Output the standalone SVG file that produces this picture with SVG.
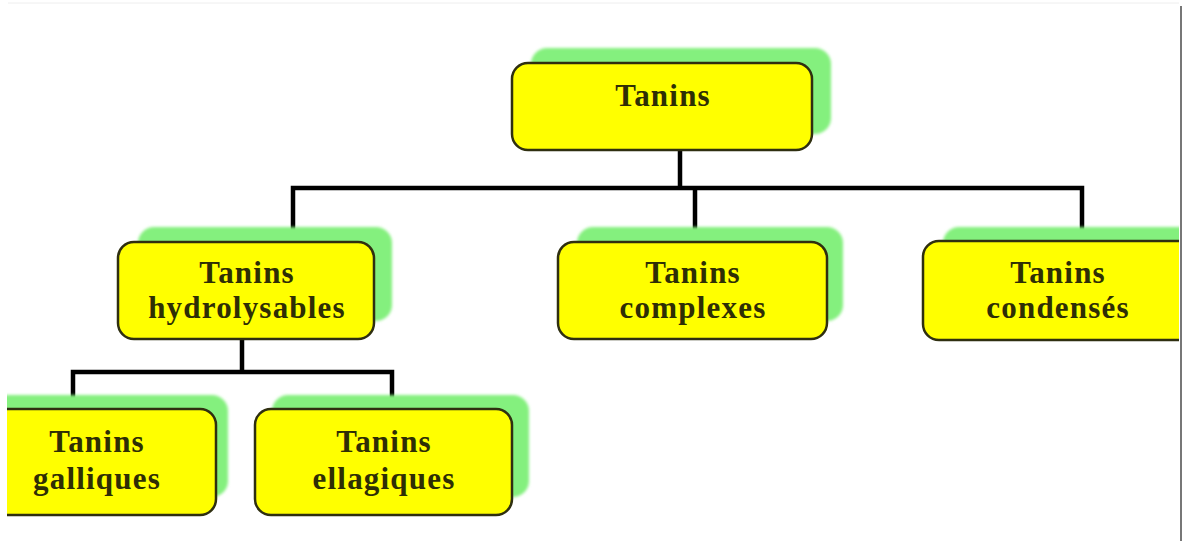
<svg xmlns="http://www.w3.org/2000/svg" width="1183" height="541" viewBox="0 0 1183 541">
<defs>
<style>
.sh{fill:#84f07e;}
.bx{fill:#ffff00;stroke:#2f2f10;stroke-width:2.5;}
.t{font-family:"Liberation Serif","Times New Roman",serif;font-weight:bold;font-size:31px;letter-spacing:1.2px;fill:#2e2e05;text-anchor:middle;}
.c{stroke:#000;stroke-width:4.5;fill:none;stroke-linecap:square;}
</style>
<filter id="bl" x="-5%" y="-5%" width="110%" height="110%"><feGaussianBlur stdDeviation="1.5"/></filter>
<clipPath id="cl"><rect x="7" y="0" width="1172" height="541"/></clipPath>
</defs>
<rect x="0" y="0" width="1183" height="541" fill="#fff"/>
<line x1="8" y1="3" x2="1179" y2="3" stroke="#eee" stroke-width="1"/>
<line x1="1181" y1="6" x2="1181" y2="541" stroke="#777" stroke-width="2"/>
<g id="connectors">
<path class="c" d="M680 150 V188 M293 188 H1082 M293 188 V241 M695 188 V241 M1082 188 V240"/>
<path class="c" d="M242 340 V372 M73 372 H392 M73 372 V409 M392 372 V409"/>
</g>
<g clip-path="url(#cl)">
<g id="n-tanins">
<rect class="sh" x="531" y="48" width="300" height="86" rx="16" filter="url(#bl)"/>
<rect class="bx" x="512" y="63" width="300" height="87" rx="16"/>
<text class="t" x="663" y="106">Tanins</text>
</g>
<g id="n-hydrolysables">
<rect class="sh" x="138" y="227" width="254" height="94" rx="16" filter="url(#bl)"/>
<rect class="bx" x="118" y="242" width="256" height="97" rx="16"/>
<text class="t" x="247" y="283">Tanins</text>
<text class="t" x="247" y="318">hydrolysables</text>
</g>
<g id="n-complexes">
<rect class="sh" x="577" y="227" width="266" height="94" rx="16" filter="url(#bl)"/>
<rect class="bx" x="558" y="242" width="269" height="97" rx="16"/>
<text class="t" x="693" y="283">Tanins</text>
<text class="t" x="693" y="318">complexes</text>
</g>
<g id="n-condenses">
<rect class="sh" x="943" y="227" width="280" height="94" rx="16" filter="url(#bl)"/>
<rect class="bx" x="923" y="241" width="280" height="99" rx="16"/>
<text class="t" x="1058" y="283">Tanins</text>
<text class="t" x="1058" y="318">condensés</text>
</g>
<g id="n-galliques">
<rect class="sh" x="-10" y="395" width="238" height="102" rx="16" filter="url(#bl)"/>
<rect class="bx" x="-25" y="409" width="241" height="106" rx="16"/>
<text class="t" x="97" y="452">Tanins</text>
<text class="t" x="97" y="489">galliques</text>
</g>
<g id="n-ellagiques">
<rect class="sh" x="272" y="395" width="257" height="102" rx="16" filter="url(#bl)"/>
<rect class="bx" x="255" y="409" width="257" height="106" rx="16"/>
<text class="t" x="384" y="452">Tanins</text>
<text class="t" x="384" y="489">ellagiques</text>
</g>
</g>
</svg>
